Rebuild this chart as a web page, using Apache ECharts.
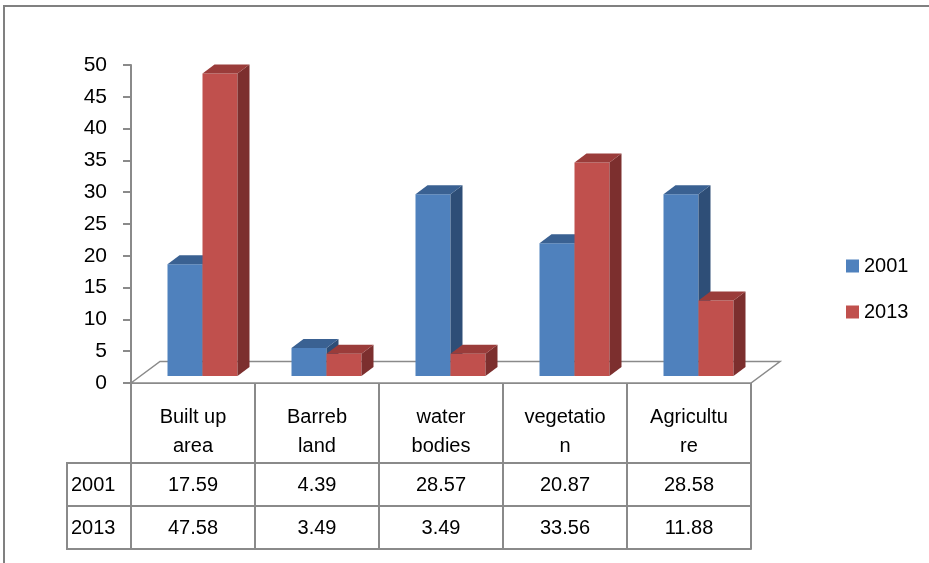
<!DOCTYPE html>
<html>
<head>
<meta charset="utf-8">
<script src="https://cdn.jsdelivr.net/npm/echarts@6/dist/echarts.min.js"></script>
<style>
  html, body { margin: 0; padding: 0; background: #ffffff; }
  #chart { width: 929px; height: 563px; }
</style>
</head>
<body>
<div id="chart"></div>
<script>
// Land-use classes (labels wrap exactly as printed in the data table)
const categories = ['Built up\narea', 'Barreb\nland', 'water\nbodies', 'vegetatio\nn', 'Agricultu\nre'];
const years = ['2001', '2013'];
const values2001 = [17.59, 4.39, 28.57, 20.87, 28.58];
const values2013 = [47.58, 3.49, 3.49, 33.56, 11.88];
const yMin = 0, yMax = 50, yStep = 5;

// ---- layout & style ----
const FONT = '"Liberation Sans", Arial, sans-serif';
const FS = 20;
const GRID = { left: 131, top: 65, width: 620, height: 318 };
const GRAY = '#8a8a8a';
const FLOOR_DX = 29, FLOOR_DY = 21.5;   // oblique depth of the floor
const SHIFT_X = 9.5, SHIFT_Y = 7;       // bars stand a third of the way into the floor
const BAR_W = 35;
const DX = 12, DY = 9;                  // bar depth
const palette = [
  { front: '#4F81BD', top: '#3A6192', side: '#2E4E77' },
  { front: '#C0504D', top: '#9A3C3A', side: '#7C2F2E' }
];

function barRenderer(idx) {
  const c = palette[idx];
  return function (params, api) {
    const i = api.value(0), v = api.value(1);
    const base = api.coord([i, 0]);
    const top = api.coord([i, v]);
    const x0 = base[0] + SHIFT_X + (idx === 0 ? -BAR_W : 0);
    const x1 = x0 + BAR_W;
    const yb = base[1] - SHIFT_Y;
    const yt = top[1] - SHIFT_Y;
    return {
      type: 'group',
      children: [
        { type: 'polygon', shape: { points: [[x0, yb], [x1, yb], [x1, yt], [x0, yt]] }, style: { fill: c.front } },
        { type: 'polygon', shape: { points: [[x1, yb], [x1 + DX, yb - DY], [x1 + DX, yt - DY], [x1, yt]] }, style: { fill: c.side } },
        { type: 'polygon', shape: { points: [[x0, yt], [x1, yt], [x1 + DX, yt - DY], [x0 + DX, yt - DY]] }, style: { fill: c.top } }
      ]
    };
  };
}

function floorRenderer(params, api) {
  const cs = params.coordSys;
  const yb = cs.y + cs.height;
  return {
    type: 'polygon',
    shape: { points: [[cs.x, yb], [cs.x + FLOOR_DX, yb - FLOOR_DY], [cs.x + cs.width + FLOOR_DX, yb - FLOOR_DY], [cs.x + cs.width, yb]] },
    style: { fill: '#ffffff', stroke: GRAY, lineWidth: 1.5 }
  };
}

const seriesValues = [values2001, values2013];
const fmt = v => v.toFixed(2);

const chart = echarts.init(document.getElementById('chart'), null, { renderer: 'canvas' });

const tableAxis = (data, offset, showLabel) => ({
  type: 'category',
  gridIndex: 0,
  position: 'bottom',
  offset: offset,
  data: data,
  axisLine: { show: true, lineStyle: { color: GRAY, width: 2 } },
  axisTick: { show: false },
  axisLabel: { show: showLabel, interval: 0, margin: 12, color: '#000', fontFamily: FONT, fontSize: FS },
  splitLine: { show: false }
});

const option = {
  backgroundColor: '#ffffff',
  animation: false,
  grid: { left: GRID.left, top: GRID.top, width: GRID.width, height: GRID.height },
  legend: {
    data: years,
    orient: 'vertical',
    left: 841,
    top: 251,
    icon: 'rect',
    itemWidth: 13,
    itemHeight: 13,
    itemGap: 26,
    textStyle: { fontFamily: FONT, fontSize: FS, color: '#000' }
  },
  xAxis: [
    {
      type: 'category',
      data: categories,
      axisLine: { show: true, lineStyle: { color: GRAY, width: 2 } },
      axisTick: { show: true, length: 166, interval: 0, lineStyle: { color: GRAY, width: 2 } },
      axisLabel: { interval: 0, margin: 20, color: '#000', fontFamily: FONT, fontSize: FS, lineHeight: 29 },
      splitLine: { show: false }
    },
    tableAxis(values2001.map(fmt), 80, true),
    tableAxis(values2013.map(fmt), 123, true),
    tableAxis(categories, 166, false)
  ],
  yAxis: {
    type: 'value',
    min: yMin,
    max: yMax,
    interval: yStep,
    axisLine: { show: true, lineStyle: { color: GRAY, width: 2 } },
    axisTick: { show: true, length: 8, lineStyle: { color: GRAY, width: 2 } },
    axisLabel: { margin: 24, color: '#000', fontFamily: FONT, fontSize: 21 },
    splitLine: { show: false }
  },
  series: [
    {
      type: 'custom',
      name: 'floor',
      renderItem: floorRenderer,
      data: [[0, 0]],
      encode: { x: 0, y: 1 },
      silent: true,
      z: 1
    }
  ].concat(years.map((y, idx) => ({
    type: 'custom',
    name: y,
    renderItem: barRenderer(idx),
    itemStyle: { color: palette[idx].front },
    data: seriesValues[idx].map((v, i) => [i, v]),
    encode: { x: 0, y: 1 },
    z: 2 + idx
  }))),
  graphic: [
    // chart frame
    { type: 'polyline', shape: { points: [[4, 563], [4, 6], [929, 6]] }, style: { stroke: '#808080', lineWidth: 2, fill: null } },
    // row-header cells of the data table
    { type: 'rect', shape: { x: 67, y: 463, width: 64, height: 86 }, style: { stroke: GRAY, lineWidth: 2, fill: null } },
    { type: 'line', shape: { x1: 67, y1: 506, x2: 131, y2: 506 }, style: { stroke: GRAY, lineWidth: 2 } }
  ].concat(years.map((y, idx) => ({
    type: 'text',
    x: 71,
    y: 485 + idx * 43,
    style: { text: y, fontFamily: FONT, fontSize: FS, fill: '#000', verticalAlign: 'middle', align: 'left' }
  })))
};

chart.setOption(option);
</script>
</body>
</html>
